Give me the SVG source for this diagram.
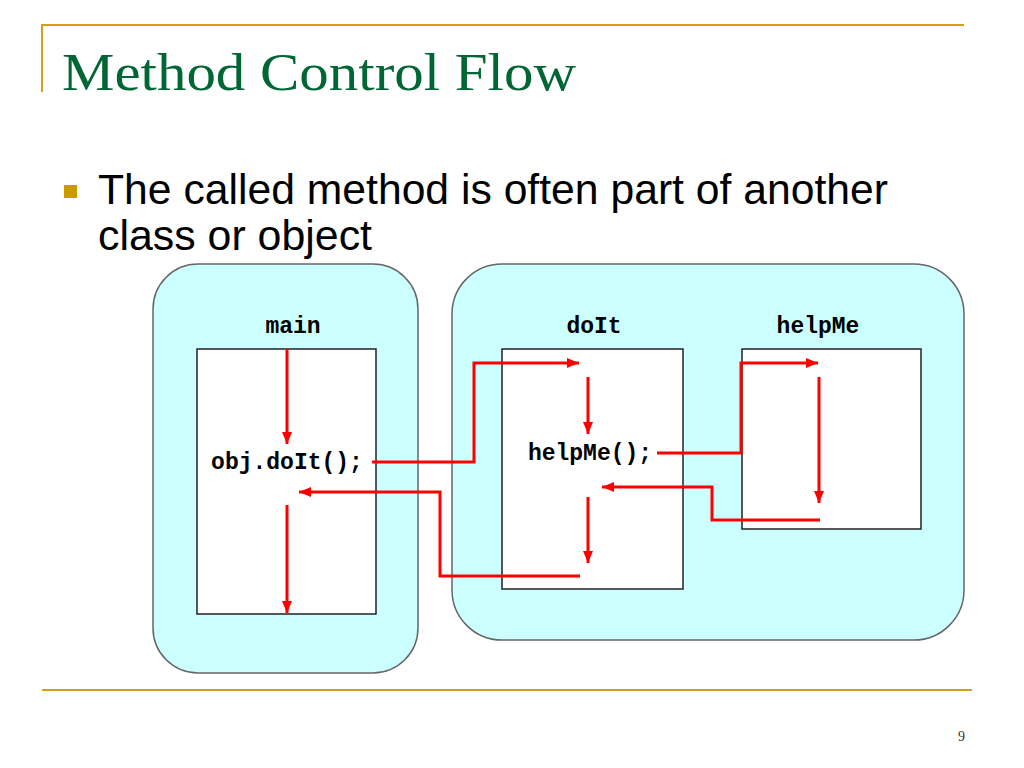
<svg xmlns="http://www.w3.org/2000/svg" width="1024" height="768" viewBox="0 0 1024 768">
<defs>
<style>
.rule{stroke:#d4a017;stroke-width:2;fill:none}
.obj{fill:#ccffff;stroke:#666666;stroke-width:1.5}
.meth{fill:#ffffff;stroke:#222222;stroke-width:1.5}
.mono{font-family:"Liberation Mono","Courier New",monospace;font-weight:bold;font-size:23px;fill:#000}
.flow{stroke:#ff0000;stroke-width:3;fill:none}
</style>
<marker id="ah" viewBox="0 0 12 10" refX="12" refY="5" markerWidth="12" markerHeight="10" markerUnits="userSpaceOnUse" orient="auto">
<path d="M0,0 L12,5 L0,10 Z" fill="#ff0000"/>
</marker>
</defs>
<rect width="1024" height="768" fill="#ffffff"/>
<g id="slide-frame">
<path class="rule" d="M42,92 L42,25 L964,25"/>
<line class="rule" x1="42" y1="690" x2="972" y2="690"/>
<text x="62" y="90" font-family="Liberation Serif,Times New Roman,serif" font-size="52" fill="#006633" textLength="514" lengthAdjust="spacingAndGlyphs">Method Control Flow</text>
<rect x="64" y="185" width="13" height="13" fill="#cc9900"/>
<text x="98" y="204" font-family="Liberation Sans,Arial,sans-serif" font-size="43" fill="#000" textLength="790" lengthAdjust="spacingAndGlyphs">The called method is often part of another</text>
<text x="98" y="250" font-family="Liberation Sans,Arial,sans-serif" font-size="43" fill="#000" textLength="274" lengthAdjust="spacingAndGlyphs">class or object</text>
<text x="958" y="741" font-family="Liberation Serif,Times New Roman,serif" font-size="14" fill="#333">9</text>
</g>
<g id="main-object">
<rect class="obj" x="153" y="264" width="265" height="409" rx="45"/>
</g>
<g id="other-object">
<rect class="obj" x="452" y="264" width="512" height="376" rx="50"/>
</g>
<g id="main">
<text class="mono" x="293" y="333" text-anchor="middle">main</text>
<rect class="meth" x="197" y="349" width="179" height="265"/>
<text class="mono" x="287" y="469" text-anchor="middle">obj.doIt();</text>
</g>
<g id="doIt">
<text class="mono" x="594" y="333" text-anchor="middle">doIt</text>
<rect class="meth" x="502" y="349" width="181" height="240"/>
<text class="mono" x="590" y="460" text-anchor="middle">helpMe();</text>
</g>
<g id="helpMe">
<text class="mono" x="818" y="333" text-anchor="middle">helpMe</text>
<rect class="meth" x="742" y="349" width="179" height="180"/>
</g>
<g id="connectors">
<line class="flow" x1="287" y1="349" x2="287" y2="444" marker-end="url(#ah)"/>
<line class="flow" x1="287" y1="505" x2="287" y2="613" marker-end="url(#ah)"/>
<polyline class="flow" points="372,462 474,462 474,363 579,363" marker-end="url(#ah)"/>
<line class="flow" x1="588" y1="377" x2="588" y2="434" marker-end="url(#ah)"/>
<line class="flow" x1="588" y1="497" x2="588" y2="563" marker-end="url(#ah)"/>
<polyline class="flow" points="657,453 741,453 741,363 818,363" marker-end="url(#ah)"/>
<line class="flow" x1="819" y1="377" x2="819" y2="503" marker-end="url(#ah)"/>
<polyline class="flow" points="820,520 712,520 712,487 602,487" marker-end="url(#ah)"/>
<polyline class="flow" points="580,576 440,576 440,492 299,492" marker-end="url(#ah)"/>
</g>
</svg>
